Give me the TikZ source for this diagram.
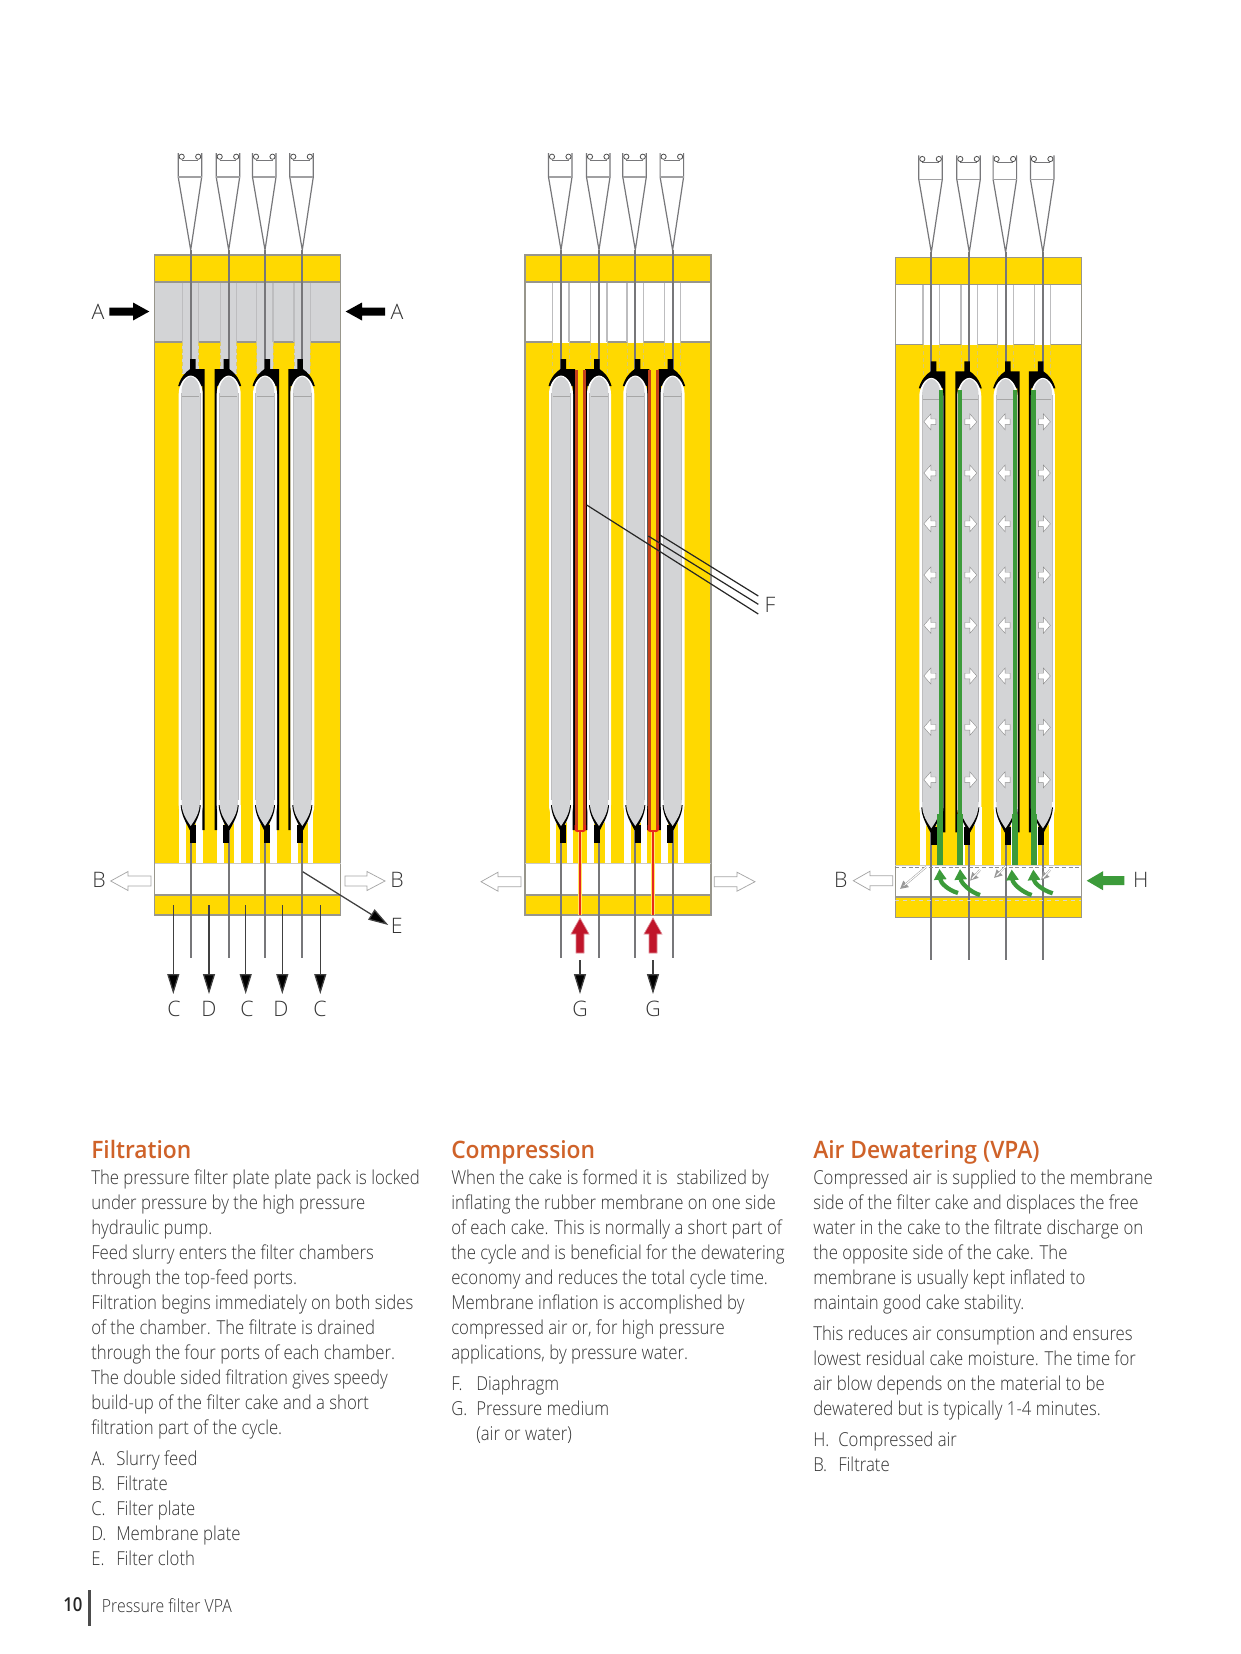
\documentclass[tikz,border=0pt]{standalone}
\usepackage{fontspec}
\setmainfont{Open Sans}[UprightFont=* Light,BoldFont=* Semibold,FakeStretch=0.873]
\newfontfamily\ttlfont{Open Sans}[UprightFont=* Semibold,FakeStretch=0.95]
\newfontfamily\lblfont{Open Sans}[UprightFont=* Light,FakeStretch=1.0]
\usetikzlibrary{arrows.meta,calc}
\definecolor{yel}{HTML}{FFD900}
\definecolor{cgry}{HTML}{D3D4D6}
\definecolor{frm}{HTML}{98968C}
\definecolor{wire}{HTML}{77777A}
\definecolor{edgeg}{HTML}{BDBDBF}
\definecolor{orng}{HTML}{CF6229}
\definecolor{txtc}{HTML}{333333}
\definecolor{redd}{HTML}{C4411C}
\definecolor{redb}{HTML}{E8291C}
\definecolor{arrred}{HTML}{C0152A}
\definecolor{grn}{HTML}{3C9B3A}
\newcounter{ln}
\tikzset{
  txt/.style={anchor=base west,inner sep=0pt,text=txtc,font=\fontsize{14.4}{16}\selectfont},
  ttl/.style={anchor=base west,inner sep=0pt,text=orng,font=\fontsize{18}{20}\ttlfont},
  lbl/.style={inner sep=0pt,text=txtc,font=\fontsize{16}{18}\lblfont},
  thinarrow/.style={draw=black!75,line width=0.95pt,-{Triangle[length=15pt,width=9pt,fill=black]}},
  whitearrow/.style={fill=white,draw=black!35,line width=0.55pt},
  wireline/.style={draw=wire,line width=1.4pt},
  fline/.style={draw=black!85,line width=0.9pt},
}
\newcommand\tl[3]{\stepcounter{ln}\node[txt] (t\theln) at (#1,#2) {#3};}
% horizontal block arrow: tail x, head-base x, tip x, y, shaft half, head half, style
\newcommand\harrow[7]{\path[#7] (#1,#4-#5) -- (#2,#4-#5) -- (#2,#4-#6) -- (#3,#4) -- (#2,#4+#6) -- (#2,#4+#5) -- (#1,#4+#5) -- cycle;}
\newcommand\panel[4]{%
\begin{scope}[shift={(#1,#2)}]
  \fill[yel] (154.7,255) rectangle (340.7,915);
  \fill[#3] (154.7,282) rectangle (340.7,342);
  \fill[white] (154.7,863) rectangle (340.7,895);
  % bottom slots
  \foreach \sa/\sb in {179.3/185.7,196.3/202.7,217/224,234.3/241,253.3/260.3,270.3/277,290.7/297.7,308/313.3}
    {\fill[white] (\sa,805) rectangle (\sb,864);}
  \draw[frm,line width=0.9pt] (154.7,255) rectangle (340.7,915);
  \draw[frm,line width=1.1pt] (154.7,282) -- (340.7,282);
  \draw[frm,line width=1.6pt] (154.7,895) -- (340.7,895);
  \draw[frm!50,line width=0.7pt] (154.7,863) -- (340.7,863);
  \draw[frm,line width=1.1pt] (154.7,342) -- (340.7,342);
  \foreach \cx/\dr in {190.7/1,228.7/-1,265/1,302.3/-1}{
    % neck
    \fill[#3] ({\cx-8.3},282.6) rectangle ({\cx+8},342.8);
    \fill[#4] ({\cx-8.3},342.8) rectangle ({\cx+8},374);
    \draw[edgeg,line width=0.8pt] ({\cx-8.3},282.6) -- ({\cx-8.3},342);
    \draw[edgeg,line width=0.8pt] ({\cx+8},282.6) -- ({\cx+8},342);
    \draw[edgeg!55!yel,line width=0.7pt,dash pattern=on 3pt off 2pt] ({\cx-8.3},342) -- ({\cx-8.3},374);
    \draw[edgeg!55!yel,line width=0.7pt,dash pattern=on 3pt off 2pt] ({\cx+8},342) -- ({\cx+8},374);
    % wedge
    \draw[wire,line width=0.9pt,fill=white] ({\cx-12.5},153) -- ({\cx-12.5},177) -- (\cx,250) -- ({\cx+11},177) -- ({\cx+11},153);
    \draw[wire!70,line width=0.9pt] ({\cx-12.5},177) -- ({\cx+11},177);
    \draw[wire,line width=0.5pt] ({\cx-9},160) -- ({\cx+7.5},160);
    \draw[black!70,line width=0.6pt,fill=white] ({\cx-9},156.7) circle[radius=2.6];
    \draw[black!70,line width=0.6pt,fill=white] ({\cx+7.5},156.7) circle[radius=2.6];
    % wire
    \draw[wireline] (\cx,250) -- (\cx,958);
    % black top and bar
    \fill[black] ({\cx-\dr*12.5},386) .. controls ({\cx-\dr*10},377) and ({\cx-\dr*5},372) .. ({\cx-\dr*0.5},369) -- ({\cx-\dr*0.5},359) -- ({\cx+\dr*5},359) -- ({\cx+\dr*5},369) -- ({\cx+\dr*14},369) -- ({\cx+\dr*14},830) -- ({\cx+\dr*11.7},830) -- ({\cx+\dr*11.7},386) -- cycle;
    % white rim
    \fill[white] ({\cx-12},394) .. controls ({\cx-12},386) and ({\cx-7},376) .. (\cx,375.5) .. controls ({\cx+7},376) and ({\cx+12},386) .. ({\cx+12},394) -- ({\cx+12},805) .. controls ({\cx+12},815) and ({\cx+6},822) .. (\cx,829) .. controls ({\cx-6},822) and ({\cx-12},815) .. ({\cx-12},805) -- cycle;
    % black V and plug
    \fill[black] ({\cx-10},805) .. controls ({\cx-9.5},815) and ({\cx-5},822) .. ({\cx-1},830) -- ({\cx+1},830) .. controls ({\cx+5},822) and ({\cx+9.5},815) .. ({\cx+10},805) -- cycle;
    \fill[black] ({\cx-\dr*0.6},825) rectangle ({\cx+\dr*5.3},843);
    % gray body
    \fill[cgry] ({\cx-9.2},392) .. controls ({\cx-9.2},384) and ({\cx-5},377) .. (\cx,376.5) .. controls ({\cx+5},377) and ({\cx+9.2},384) .. ({\cx+9.2},392) -- ({\cx+9.2},802) .. controls ({\cx+9.2},813) and ({\cx+4},820) .. (\cx,826) .. controls ({\cx-4},820) and ({\cx-9.2},813) .. ({\cx-9.2},802) -- cycle;
    \draw[edgeg,line width=0.5pt] ({\cx-9.2},393) -- ({\cx-9.2},800);
    \draw[edgeg,line width=0.5pt] ({\cx+9.2},393) -- ({\cx+9.2},800);
    \draw[black!35,line width=0.7pt] ({\cx-8.5},396.7) -- ({\cx+8.5},396.7);
  }
\end{scope}}
\begin{document}
\begin{tikzpicture}[x=0.75pt,y=-0.75pt]
\useasboundingbox (0,0) rectangle (1240,1654);
\fill[white] (0,0) rectangle (1240,1654);
% ===== panels =====
\panel{0}{0}{cgry}{cgry}
\panel{370.3}{0}{white}{yel}
\panel{740.6}{2.3}{white}{yel}
% ===== panel 1 labels =====
\node[lbl] (a1) at (98,311.5) {A};
\node[lbl] (a2) at (397,311.5) {A};
\harrow{109.3}{133}{149.3}{311.5}{4}{9}{fill=black}
\harrow{385}{362}{345.7}{311.5}{4}{9}{fill=black}
\node[lbl] (b1) at (99,879.5) {B};
\node[lbl] (b2) at (397,879.5) {B};
\harrow{151}{128}{110.7}{881}{5}{9.5}{whitearrow}
\harrow{345}{367}{385}{881}{5}{9.5}{whitearrow}
\node[lbl] (e1) at (396.7,926) {E};
\coordinate (es) at (302.7,871.7);
\coordinate (ee) at (388.3,925);
\draw[thinarrow] (es) -- (ee);
\foreach \nm/\xa/\xb/\tx in {k1/173.3/174/C,k2/209/209/D,k3/245.7/247/C,k4/282.3/281/D,k5/320.3/320/C}{
  \node[lbl] (\nm) at (\xb,1009) {\tx};
  \coordinate (\nm s) at (\xa,905);
  \coordinate (\nm e) at (\xa,994);
  \draw[thinarrow] (\nm s) -- (\nm e);
}
% ===== panel 2 =====
\harrow{521}{498}{481}{881.7}{5}{9.5}{whitearrow}
\harrow{714.3}{737}{755}{881.7}{5}{9.5}{whitearrow}
\foreach \xr/\rl/\nm in {580/561.3/g1,653/634.7/g2}{
  \fill[redd] ({\xr-5},370) rectangle ({\xr-2},830);
  \fill[redd] ({\xr+3},370) rectangle ({\xr+6.3},830);
  \draw[redb,line width=1.5pt,rounded corners=1.5pt] ({\xr-4.5},825) -- ({\xr-4.5},831) -- ({\xr+5},831) -- ({\xr+5},825);
  \draw[yel!60!white,line width=2.6pt] (\xr,832) -- (\xr,915);
  \draw[redb,line width=1.4pt] (\xr,832) -- (\xr,915);
  \path[fill=arrred,draw=arrred!50!white,line width=0.5pt] ({\xr-4},953) -- ({\xr-4},934) -- ({\xr-9},934) -- (\xr,918) -- ({\xr+9},934) -- ({\xr+4},934) -- ({\xr+4},953) -- cycle;
  \node[lbl] (\nm) at (\xr,1009) {G};
  \coordinate (\nm s) at (\xr,960);
  \coordinate (\nm e) at (\xr,994);
  \draw[thinarrow] (\nm s) -- (\nm e);
}
\node[lbl] (f1) at (770,605) {F};
\coordinate (fa) at (586.7,505);\coordinate (fb) at (758.3,614);
\coordinate (fc) at (648.3,536);\coordinate (fd) at (758.3,604.3);
\coordinate (fe) at (660,535);\coordinate (ff) at (758.3,596);
\draw[fline] (fa) -- (fb);
\draw[fline] (fc) -- (fd);
\draw[fline] (fe) -- (ff);
% ===== panel 3 =====
\begin{scope}[shift={(740.6,2.3)}]
  \foreach \cx/\dr in {190.7/1,228.7/-1,265/1,302.3/-1}{
    \fill[grn] ({\cx+\dr*7.3},388) rectangle ({\cx+\dr*11.5},815);
    \fill[grn] ({\cx+\dr*6},812) rectangle ({\cx+\dr*12},863);
    \foreach \yy in {419.5,470.7,521.5,572.7,623,673.7,725,777.5}{
      \path[fill=white,draw=black!45,line width=0.3pt] ({\cx+\dr*4.5},\yy-2.8) -- ({\cx-\dr*0.5},\yy-2.8) -- ({\cx-\dr*0.5},\yy-8) -- ({\cx-\dr*7.5},\yy) -- ({\cx-\dr*0.5},\yy+8) -- ({\cx-\dr*0.5},\yy+2.8) -- ({\cx+\dr*4.5},\yy+2.8) -- cycle;
    }
  }
  \draw[black!45,line width=0.9pt,dash pattern=on 3pt off 2pt] (154.7,865) -- (340.7,865);
  \draw[white!60!frm,line width=0.8pt,dash pattern=on 3pt off 3pt] (154.7,898) -- (340.7,898);
\end{scope}
\foreach \xa/\ya/\xb/\yb in {958/893/939.5/869,980/895/960/869,1031.7/895/1011.7/869.5,1052.7/893.3/1033.3/869.5}{
  \draw[grn,line width=3.2pt,-{Triangle[length=8pt,width=9pt]}] (\xa,\ya) .. controls ({\xa-10},{\ya-3}) and ({\xb+1},{\yb+14}) .. (\xb,\yb);
}
\foreach \xa/\ya/\xb/\yb in {926/867/900/889,980/870/970/880.7,1006/866/994/878,1050/870/1041/880}{
  \draw[black!40,line width=1.5pt,-{Triangle[length=6pt,width=6pt,fill=white]}] (\xa,\ya) -- (\xb,\yb);
  \draw[white,line width=0.8pt] (\xa,\ya) -- ($(\xa,\ya)!0.8!(\xb,\yb)$);
}
\node[lbl] (b3) at (840.7,880) {B};
\harrow{892.7}{870}{853.3}{880.7}{5}{9.5}{whitearrow}
\harrow{1124.3}{1103}{1086.7}{880.7}{4.5}{9.5}{fill=grn}
\node[lbl] (h1) at (1140.7,880) {H};
% ===== column 1 =====
\node[ttl] (tt1) at (91,1158.3) {Filtration};
\tl{91}{1184}{The pressure filter plate plate pack is locked}
\tl{91}{1209}{under pressure by the high pressure}
\tl{91}{1234}{hydraulic pump.}
\tl{91}{1259}{Feed slurry enters the filter chambers}
\tl{91}{1284}{through the top-feed ports.}
\tl{91}{1309}{Filtration begins immediately on both sides}
\tl{91}{1334}{of the chamber. The filtrate is drained}
\tl{91}{1359}{through the four ports of each chamber.}
\tl{91}{1384}{The double sided filtration gives speedy}
\tl{91}{1409}{build-up of the filter cake and a short}
\tl{91}{1434}{filtration part of the cycle.}
\tl{91}{1465}{A.}\tl{116}{1465}{Slurry feed}
\tl{91}{1490}{B.}\tl{116}{1490}{Filtrate}
\tl{91}{1515}{C.}\tl{116}{1515}{Filter plate}
\tl{91}{1540}{D.}\tl{116}{1540}{Membrane plate}
\tl{91}{1565}{E.}\tl{116}{1565}{Filter cloth}
% ===== column 2 =====
\node[ttl] (tt2) at (451,1158.3) {Compression};
\tl{451}{1184}{When the cake is formed it is\ \ stabilized by}
\tl{451}{1209}{inflating the rubber membrane on one side}
\tl{451}{1234}{of each cake. This is normally a short part of}
\tl{451}{1259}{the cycle and is beneficial for the dewatering}
\tl{451}{1284}{economy and reduces the total cycle time.}
\tl{451}{1309}{Membrane inflation is accomplished by}
\tl{451}{1334}{compressed air or, for high pressure}
\tl{451}{1359}{applications, by pressure water.}
\tl{451}{1390}{F.}\tl{476}{1390}{Diaphragm}
\tl{451}{1415}{G.}\tl{476}{1415}{Pressure medium}
\tl{476}{1440}{(air or water)}
% ===== column 3 =====
\node[ttl] (tt3) at (813,1158.3) {Air Dewatering (VPA)};
\tl{813}{1184}{Compressed air is supplied to the membrane}
\tl{813}{1209}{side of the filter cake and displaces the free}
\tl{813}{1234}{water in the cake to the filtrate discharge on}
\tl{813}{1259}{the opposite side of the cake. The}
\tl{813}{1284}{membrane is usually kept inflated to}
\tl{813}{1309}{maintain good cake stability.}
\tl{813}{1340}{This reduces air consumption and ensures}
\tl{813}{1365}{lowest residual cake moisture. The time for}
\tl{813}{1390}{air blow depends on the material to be}
\tl{813}{1415}{dewatered but is typically 1-4 minutes.}
\tl{813}{1446}{H.}\tl{838}{1446}{Compressed air}
\tl{813}{1471}{B.}\tl{838}{1471}{Filtrate}
% ===== footer =====
\node[anchor=base west,inner sep=0pt,text=black!85,font=\fontsize{14.4}{16}\selectfont\bfseries] (pg) at (63,1611.7) {10};
\fill[black!70] (88.3,1590) rectangle (91,1625.7);
\node[txt,font=\fontsize{13.6}{16}\selectfont] (ftr) at (101.7,1612) {Pressure filter VPA};
\end{tikzpicture}
\end{document}
